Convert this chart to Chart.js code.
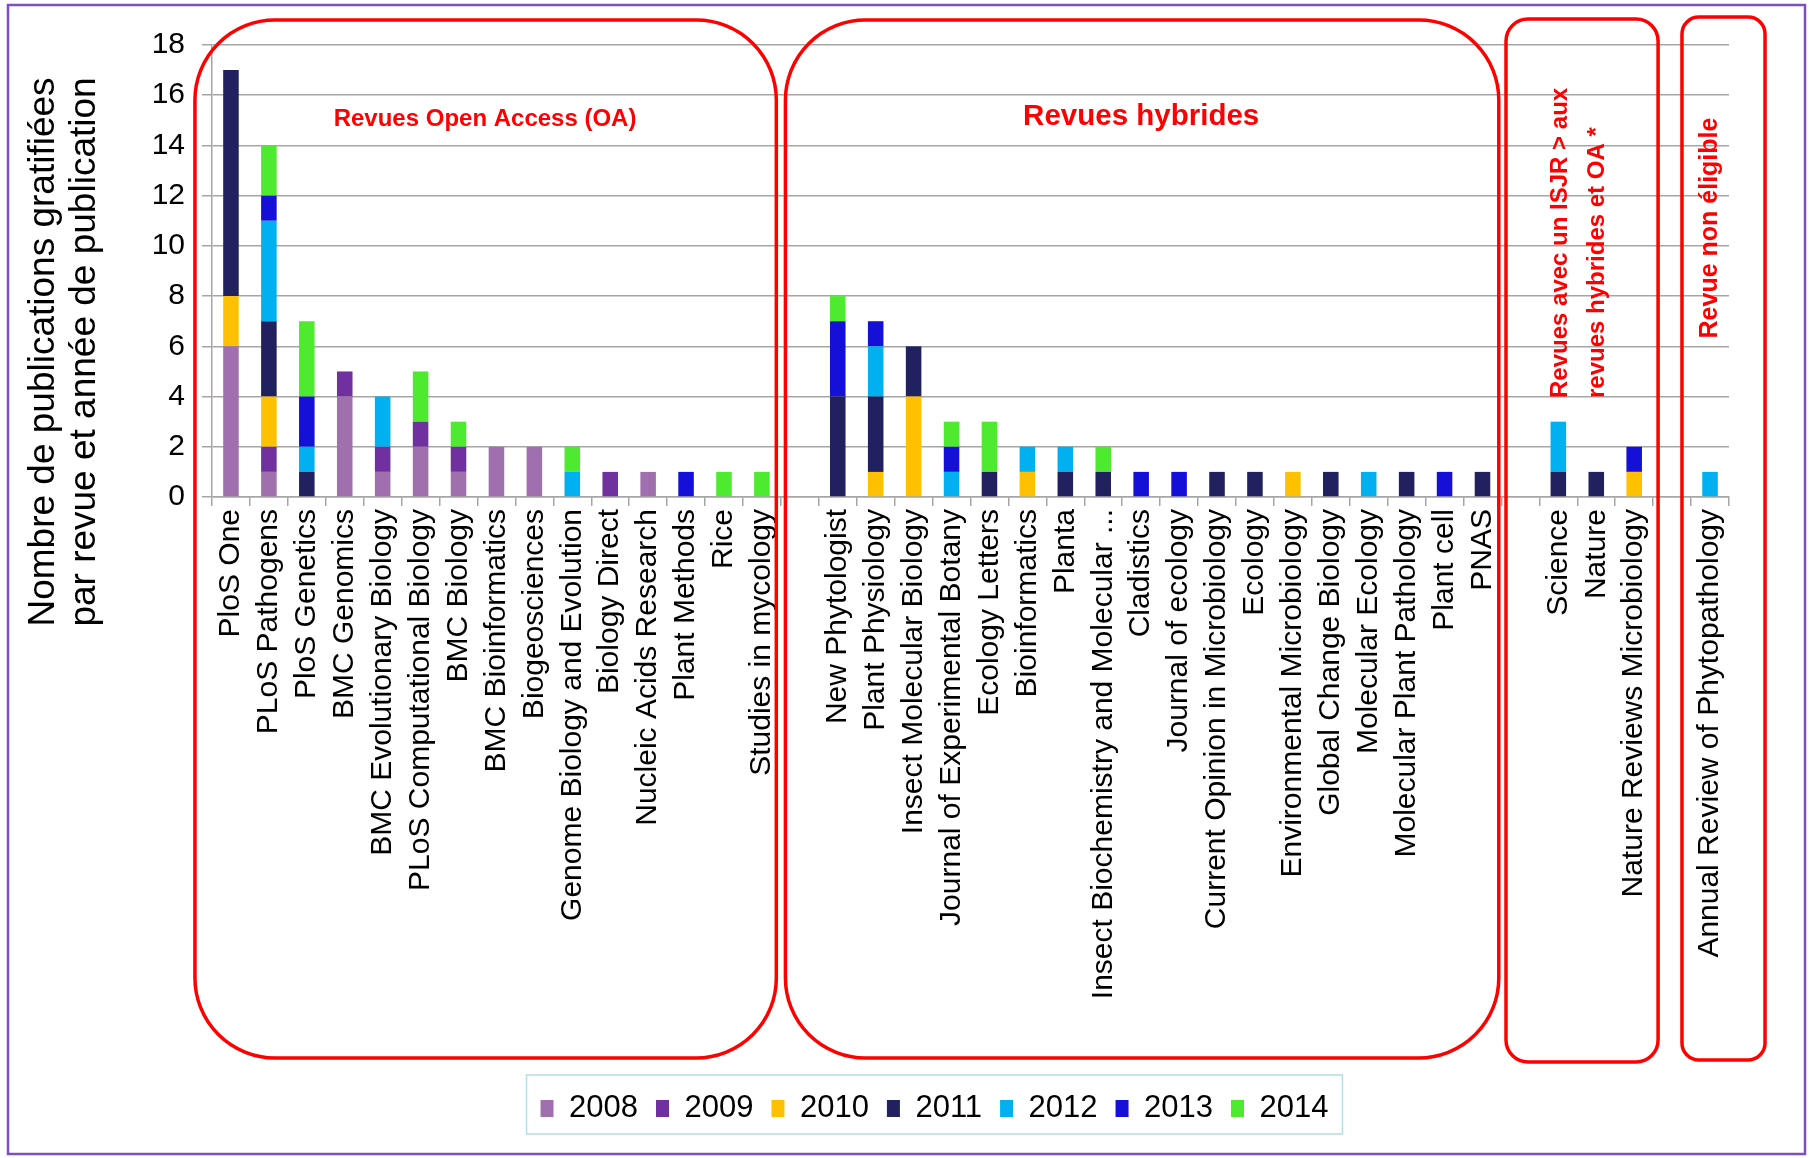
<!DOCTYPE html>
<html>
<head>
<meta charset="utf-8">
<script src="https://cdn.jsdelivr.net/npm/chart.js"></script>
<style>
html,body{margin:0;padding:0;background:#fff}
#wrap{width:1811px;height:1158px}
</style>
</head>
<body>
<div id="wrap"><canvas id="chart"></canvas></div>
<script>
// journals, grouped: OA / hybrid / ISJR > / not eligible ('' = empty slot between groups)
const journals = [
  'PloS One','PLoS Pathogens','PloS Genetics','BMC Genomics','BMC Evolutionary Biology',
  'PLoS Computational Biology','BMC Biology','BMC Bioinformatics','Biogeosciences',
  'Genome Biology and Evolution','Biology Direct','Nucleic Acids Research','Plant Methods',
  'Rice','Studies in mycology',
  '',
  'New Phytologist','Plant Physiology','Insect Molecular Biology','Journal of Experimental Botany',
  'Ecology Letters','Bioinformatics','Planta','Insect Biochemistry and Molecular ...',
  'Cladistics','Journal of ecology','Current Opinion in Microbiology','Ecology',
  'Environmental Microbiology','Global Change Biology','Molecular Ecology',
  'Molecular Plant Pathology','Plant cell','PNAS',
  '',
  'Science','Nature','Nature Reviews Microbiology',
  '',
  'Annual Review of Phytopathology'
]

const years = ['2008','2009','2010','2011','2012','2013','2014']

//            OA (15)                         gap hybrid (18)                          gap ISJR  gap non
const y2008 = [6,1,0,4,1,2,1,2,2,0,0,1,0,0,0, 0, 0,0,0,0,0,0,0,0,0,0,0,0,0,0,0,0,0,0, 0, 0,0,0, 0, 0]
const y2009 = [0,1,0,1,1,1,1,0,0,0,1,0,0,0,0, 0, 0,0,0,0,0,0,0,0,0,0,0,0,0,0,0,0,0,0, 0, 0,0,0, 0, 0]
const y2010 = [2,2,0,0,0,0,0,0,0,0,0,0,0,0,0, 0, 0,1,4,0,0,1,0,0,0,0,0,0,1,0,0,0,0,0, 0, 0,0,1, 0, 0]
const y2011 = [9,3,1,0,0,0,0,0,0,0,0,0,0,0,0, 0, 4,3,2,0,1,0,1,1,0,0,1,1,0,1,0,1,0,1, 0, 1,1,0, 0, 0]
const y2012 = [0,4,1,0,2,0,0,0,0,1,0,0,0,0,0, 0, 0,2,0,1,0,1,1,0,0,0,0,0,0,0,1,0,0,0, 0, 2,0,0, 0, 1]
const y2013 = [0,1,2,0,0,0,0,0,0,0,0,0,1,0,0, 0, 3,1,0,1,0,0,0,0,1,1,0,0,0,0,0,0,1,0, 0, 0,0,1, 0, 0]
const y2014 = [0,2,3,0,0,2,1,0,0,1,0,0,0,1,1, 0, 1,0,0,1,2,0,0,1,0,0,0,0,0,0,0,0,0,0, 0, 0,0,0, 0, 0]

const yearValues = [y2008,y2009,y2010,y2011,y2012,y2013,y2014]
const yearColors = ['#A070AE','#7030A0','#FFC000','#21215F','#00B0F0','#1510D8','#4EEA30']

const yTitle = ['Nombre de publications gratifiées','par revue et année de publication']

// red frames round the journal groups, edges given in category units
const groups = [
  {from:-0.95, to:14.38, top:20, bottom:1058, r:80},
  {from:14.62, to:33.43, top:20, bottom:1058, r:80},
  {from:33.62, to:37.63, top:19, bottom:1062, r:22},
  {from:38.26, to:40.45, top:17, bottom:1060, r:17}
]

const FONT = "'Liberation Sans', Arial, sans-serif"
Chart.defaults.font.family = FONT
Chart.defaults.color = '#000'

function roundRect(ctx, x, y, w, h, r){
  ctx.beginPath()
  ctx.moveTo(x+r, y)
  ctx.arcTo(x+w, y, x+w, y+h, r)
  ctx.arcTo(x+w, y+h, x, y+h, r)
  ctx.arcTo(x, y+h, x, y, r)
  ctx.arcTo(x, y, x+w, y, r)
  ctx.closePath()
}

const decor = {
  id:'decor',
  beforeDraw(chart){
    const ctx = chart.ctx
    ctx.save()
    ctx.fillStyle = '#fff'
    ctx.fillRect(0,0,chart.width,chart.height)
    ctx.strokeStyle = '#7E4FBE'
    ctx.lineWidth = 2.5
    ctx.strokeRect(8,5,chart.width-14,chart.height-9)
    ctx.restore()
  },
  afterLayout(chart){
    chart.legend.left += 70
    chart.legend.right += 70
  },
  afterDraw(chart){
    const ctx = chart.ctx
    const x = chart.scales.x
    const step = x.getPixelForValue(1) - x.getPixelForValue(0)
    const px = v => x.getPixelForValue(0) + v*step
    ctx.save()

    // y title
    ctx.fillStyle = '#000'
    ctx.font = '37px ' + FONT
    ctx.textAlign = 'center'
    ctx.textBaseline = 'middle'
    yTitle.forEach((t,i)=>{
      ctx.save()
      ctx.translate(44 + i*41, 352)
      ctx.rotate(-Math.PI/2)
      ctx.fillText(t,0,0)
      ctx.restore()
    })

    // group frames
    ctx.strokeStyle = '#FF0000'
    ctx.lineWidth = 3.5
    groups.forEach(g=>{
      roundRect(ctx, px(g.from), g.top, px(g.to)-px(g.from), g.bottom-g.top, g.r)
      ctx.stroke()
    })

    // group captions
    ctx.fillStyle = '#FF0000'
    ctx.font = 'bold 24px ' + FONT
    ctx.fillText('Revues Open Access (OA)', px(6.7), 119)
    ctx.font = 'bold 29.5px ' + FONT
    ctx.fillText('Revues hybrides', px(24), 117)

    ctx.font = 'bold 24px ' + FONT
    ctx.textAlign = 'left'
    ;[['Revues avec un ISJR > aux', px(35.05)],['revues hybrides et OA *', px(36.02)]].forEach(([t,cx])=>{
      ctx.save()
      ctx.translate(cx, 398)
      ctx.rotate(-Math.PI/2)
      ctx.fillText(t,0,0)
      ctx.restore()
    })
    ctx.font = 'bold 25px ' + FONT
    ctx.textAlign = 'center'
    ctx.save()
    ctx.translate(px(39), 228)
    ctx.rotate(-Math.PI/2)
    ctx.fillText('Revue non éligible',0,0)
    ctx.restore()

    // legend frame
    const lg = chart.legend
    const w = lg.lineWidths[0] + 10
    const cx = (lg.left + lg.right)/2
    ctx.strokeStyle = '#B5DDE2'
    ctx.lineWidth = 1.5
    ctx.strokeRect(cx - w/2, lg.top, w, lg.bottom - lg.top)
    ctx.restore()
  }
}

new Chart(document.getElementById('chart'), {
  type:'bar',
  data:{
    labels: journals,
    datasets: years.map((y,i)=>({
      label: y,
      data: yearValues[i],
      backgroundColor: yearColors[i],
      borderWidth: 0,
      barPercentage: 0.41,
      categoryPercentage: 1
    }))
  },
  options:{
    responsive:true,
    maintainAspectRatio:false,
    animation:false,
    layout:{padding:{left:0, right:82, top:45, bottom:24}},
    plugins:{
      legend:{
        position:'bottom',
        labels:{font:{size:31}, boxWidth:13, boxHeight:17, padding:18, color:'#000'}
      },
      tooltip:{enabled:false}
    },
    scales:{
      x:{
        stacked:true,
        grid:{drawOnChartArea:false, drawTicks:true, tickLength:9, color:'#A6A6A6', lineWidth:1.5},
        border:{color:'#A6A6A6', width:1.5},
        ticks:{autoSkip:false, maxRotation:90, minRotation:90, font:{size:30}, color:'#000', padding:3},
        afterFit(scale){ scale.height = 578 }
      },
      y:{
        stacked:true,
        min:0, max:18,
        grid:{color:'#A6A6A6', lineWidth:1.5, tickLength:10},
        border:{color:'#A6A6A6', width:1.5},
        ticks:{stepSize:2, font:{size:30}, color:'#000', padding:17},
        afterFit(scale){ scale.width = 212 }
      }
    }
  },
  plugins:[decor]
})
</script>
</body>
</html>
